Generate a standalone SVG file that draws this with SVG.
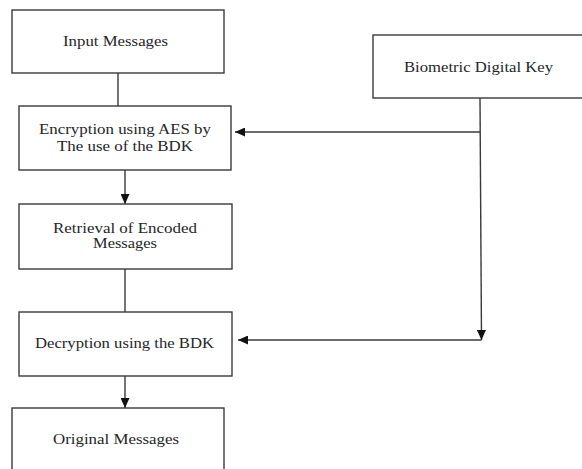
<svg xmlns="http://www.w3.org/2000/svg" width="582" height="469" viewBox="0 0 582 469">
  <style>
    .box { fill: #ffffff; stroke: #3a3a3a; stroke-width: 1.4; }
    .lbl { font-family: "Liberation Serif", "Times New Roman", serif; font-size: 14px; fill: #262626; }
    .conn { fill: none; stroke: #3a3a3a; stroke-width: 1.4; }
  </style>
  <defs>
    <marker id="arrow" markerUnits="userSpaceOnUse" markerWidth="10" markerHeight="9" refX="10" refY="4.5" orient="auto">
      <path d="M0,0 L10,4.5 L0,9 z" fill="#111111"/>
    </marker>
  </defs>
  <rect width="582" height="469" fill="#ffffff"/>

  <g id="connectors">
    <line class="conn" x1="118" y1="73" x2="118" y2="106"/>
    <line class="conn" x1="125" y1="170" x2="125" y2="204" marker-end="url(#arrow)"/>
    <line class="conn" x1="125" y1="269" x2="125" y2="312"/>
    <line class="conn" x1="125" y1="376" x2="125" y2="408" marker-end="url(#arrow)"/>
    <line class="conn" x1="480" y1="98" x2="481.5" y2="340" marker-end="url(#arrow)"/>
    <line class="conn" x1="480" y1="132" x2="235" y2="132" marker-end="url(#arrow)"/>
    <line class="conn" x1="481.5" y1="340" x2="238" y2="340" marker-end="url(#arrow)"/>
  </g>

  <g id="input-messages">
    <rect class="box" x="12" y="10" width="212" height="63"/>
    <text class="lbl" x="63" y="46" textLength="105" lengthAdjust="spacingAndGlyphs">Input Messages</text>
  </g>

  <g id="encryption">
    <rect class="box" x="19" y="106" width="212" height="64"/>
    <text class="lbl" x="39" y="134" textLength="172" lengthAdjust="spacingAndGlyphs">Encryption using AES by</text>
    <text class="lbl" x="57" y="151" textLength="136" lengthAdjust="spacingAndGlyphs">The use of the BDK</text>
  </g>

  <g id="retrieval">
    <rect class="box" x="19" y="204" width="213" height="65"/>
    <text class="lbl" x="53" y="233" textLength="144" lengthAdjust="spacingAndGlyphs">Retrieval of Encoded</text>
    <text class="lbl" x="93" y="248" textLength="64" lengthAdjust="spacingAndGlyphs">Messages</text>
  </g>

  <g id="decryption">
    <rect class="box" x="19" y="312" width="213" height="64"/>
    <text class="lbl" x="35" y="348" textLength="179" lengthAdjust="spacingAndGlyphs">Decryption using the BDK</text>
  </g>

  <g id="original-messages">
    <rect class="box" x="12" y="408" width="212" height="70"/>
    <text class="lbl" x="53" y="444" textLength="126" lengthAdjust="spacingAndGlyphs">Original Messages</text>
  </g>

  <g id="biometric-key">
    <rect class="box" x="373" y="35" width="215" height="63"/>
    <text class="lbl" x="404" y="72" textLength="149" lengthAdjust="spacingAndGlyphs">Biometric Digital Key</text>
  </g>
</svg>
